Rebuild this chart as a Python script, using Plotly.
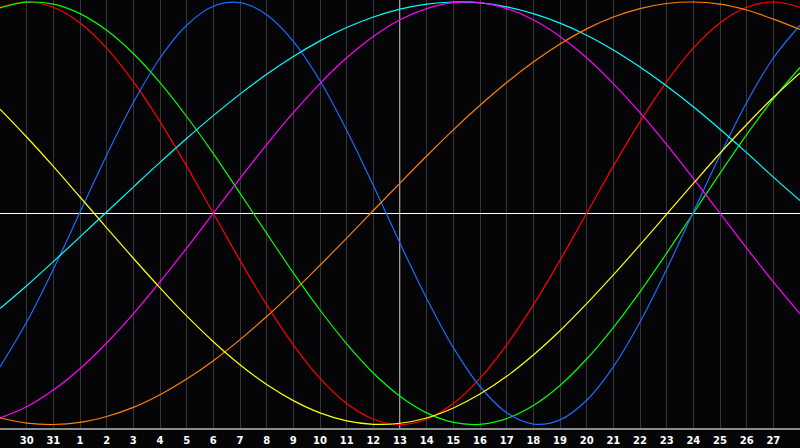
import plotly.graph_objects as go

# Day labels along the x axis (index 0 .. 30)
day_labels = ["29", "30", "31", "1", "2", "3", "4", "5", "6", "7", "8", "9", "10",
              "11", "12", "13", "14", "15", "16", "17", "18", "19", "20", "21",
              "22", "23", "24", "25", "26", "27", "28"]

# Curve values at each day gridline (-1 .. 1)
red = [0.975, 1.0, 0.975, 0.901, 0.782, 0.623, 0.434, 0.223, 0.0, -0.223, -0.434,
       -0.623, -0.782, -0.901, -0.975, -1.0, -0.975, -0.901, -0.782, -0.623, -0.434,
       -0.223, 0.0, 0.223, 0.434, 0.623, 0.782, 0.901, 0.975, 1.0, 0.975]
green = [0.972, 0.999, 0.990, 0.945, 0.866, 0.756, 0.618, 0.458, 0.282, 0.095, -0.095,
         -0.282, -0.458, -0.618, -0.756, -0.866, -0.945, -0.990, -0.999, -0.972, -0.910,
         -0.815, -0.690, -0.541, -0.372, -0.189, 0.0, 0.189, 0.372, 0.541, 0.690]
blue = [-0.727, -0.515, -0.265, 0.005, 0.275, 0.524, 0.735, 0.890, 0.980, 0.997, 0.940,
        0.814, 0.627, 0.393, 0.131, -0.142, -0.403, -0.636, -0.820, -0.944, -0.998,
        -0.978, -0.885, -0.727, -0.515, -0.265, 0.005, 0.275, 0.524, 0.735, 0.890]
cyan = [-0.451, -0.343, -0.229, -0.112, 0.006, 0.124, 0.241, 0.354, 0.462, 0.564, 0.658,
        0.742, 0.816, 0.879, 0.929, 0.966, 0.990, 1.0, 0.996, 0.977, 0.945,
        0.900, 0.843, 0.773, 0.692, 0.602, 0.504, 0.398, 0.287, 0.171, 0.060]
magenta = [-0.969, -0.916, -0.837, -0.736, -0.614, -0.476, -0.325, -0.165, 0.0, 0.165, 0.325,
           0.476, 0.614, 0.736, 0.837, 0.916, 0.969, 0.997, 0.997, 0.969, 0.916,
           0.837, 0.736, 0.614, 0.476, 0.325, 0.165, 0.0, -0.165, -0.325, -0.476]
orange = [-0.969, -0.993, -1.0, -0.990, -0.962, -0.919, -0.859, -0.785, -0.698, -0.598, -0.489,
          -0.371, -0.246, -0.118, 0.013, 0.143, 0.271, 0.395, 0.511, 0.619, 0.716,
          0.801, 0.873, 0.929, 0.969, 0.993, 1.0, 0.990, 0.962, 0.919, 0.870]
yellow = [0.493, 0.361, 0.222, 0.077, -0.069, -0.213, -0.353, -0.486, -0.608, -0.717, -0.811,
          -0.887, -0.945, -0.983, -0.999, -0.994, -0.969, -0.922, -0.856, -0.772, -0.671,
          -0.556, -0.428, -0.292, -0.150, -0.004, 0.141, 0.284, 0.420, 0.548, 0.664]

series = [
    ("red", red, "#ff0000"),
    ("green", green, "#00ff00"),
    ("blue", blue, "#1a6cff"),
    ("cyan", cyan, "#00ffff"),
    ("magenta", magenta, "#ff00ff"),
    ("orange", orange, "#ff8000"),
    ("yellow", yellow, "#ffff00"),
]

today_label = "13"
x_idx = list(range(len(day_labels)))
today_idx = day_labels.index(today_label)

fig = go.Figure()
for name, vals, col in series:
    fig.add_trace(go.Scatter(x=x_idx, y=vals, mode="lines", name=name,
                             line=dict(color=col, width=1.2, shape="spline", smoothing=1.0),
                             hoverinfo="skip"))

# today marker line
fig.add_shape(type="line", xref="x", yref="paper", x0=today_idx, x1=today_idx,
              y0=0, y1=1, line=dict(color="#ffffff", width=1.2), layer="between")

tick_idx = x_idx[1:-1]
tick_txt = day_labels[1:-1]

fig.update_layout(
    width=800, height=448,
    margin=dict(l=0, r=0, t=0, b=20, pad=0, autoexpand=False),
    paper_bgcolor="#050508",
    plot_bgcolor="#050508",
    showlegend=False,
    xaxis=dict(range=[0, len(day_labels) - 1], tickmode="array",
               tickvals=tick_idx, ticktext=tick_txt,
               showgrid=True, gridcolor="#363636", gridwidth=1,
               zeroline=False, ticks="", ticklabelstandoff=2,
               showline=True, linecolor="#8c8c8c", linewidth=2, mirror=True,
               tickfont=dict(family="DejaVu Sans", size=10, color="#ffffff", weight="bold"),
               automargin=False, fixedrange=True),
    yaxis=dict(range=[-1.0165, 1.0095], showgrid=False, showticklabels=False,
               zeroline=True, zerolinecolor="#ffffff", zerolinewidth=1.2,
               showline=True, linecolor="#8c8c8c", linewidth=2, mirror=True,
               automargin=False, fixedrange=True),
)

fig.write_html("out.html", config={"displayModeBar": False},
               post_script="document.body.style.margin='0';document.body.style.background='#050508';")
